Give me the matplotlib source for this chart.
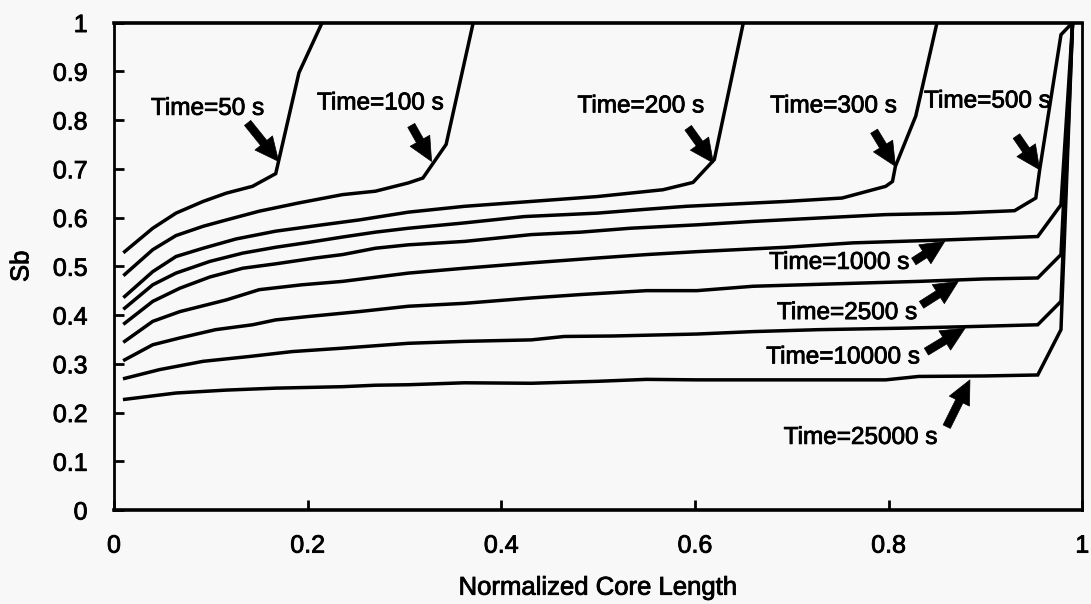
import matplotlib
matplotlib.use('Agg')

import matplotlib.pyplot as plt
import matplotlib.patheffects as pe

# saturation profiles along the core, one per time
x_50 = [0.011, 0.040, 0.064, 0.092, 0.116, 0.143, 0.167, 0.191, 0.215]
sb_50 = [0.530, 0.578, 0.609, 0.633, 0.650, 0.664, 0.690, 0.897, 1.000]

x_100 = [0.011, 0.040, 0.064, 0.092, 0.116, 0.150, 0.191, 0.236, 0.270, 0.304, 0.319, 0.343, 0.371]
sb_100 = [0.483, 0.534, 0.563, 0.582, 0.595, 0.613, 0.630, 0.647, 0.654, 0.671, 0.681, 0.750, 1.000]

x_200 = [0.011, 0.040, 0.064, 0.092, 0.126, 0.167, 0.215, 0.253, 0.304, 0.362, 0.431, 0.499, 0.567, 0.598, 0.620, 0.650]
sb_200 = [0.438, 0.489, 0.520, 0.537, 0.556, 0.572, 0.585, 0.595, 0.611, 0.623, 0.633, 0.643, 0.657, 0.672, 0.719, 1.000]

x_300 = [0.011, 0.040, 0.064, 0.099, 0.133, 0.167, 0.201, 0.236, 0.270, 0.304, 0.362, 0.424, 0.499, 0.550,
         0.591, 0.694, 0.752, 0.797, 0.804, 0.807, 0.828, 0.850]
sb_300 = [0.414, 0.462, 0.486, 0.510, 0.527, 0.539, 0.549, 0.560, 0.570, 0.578, 0.589, 0.602, 0.609, 0.617,
          0.623, 0.633, 0.640, 0.664, 0.674, 0.705, 0.808, 1.000]

x_500 = [0.011, 0.040, 0.068, 0.099, 0.133, 0.167, 0.208, 0.236, 0.270, 0.304, 0.362, 0.431, 0.482, 0.533,
         0.602, 0.660, 0.728, 0.797, 0.869, 0.930, 0.952, 0.956, 0.978, 0.990]
sb_500 = [0.383, 0.428, 0.455, 0.478, 0.496, 0.505, 0.517, 0.524, 0.537, 0.544, 0.551, 0.565, 0.570, 0.578,
          0.585, 0.592, 0.599, 0.606, 0.609, 0.614, 0.640, 0.698, 0.975, 1.000]

x_1000 = [0.011, 0.040, 0.068, 0.116, 0.150, 0.194, 0.236, 0.304, 0.362, 0.431, 0.499, 0.550, 0.602, 0.694,
          0.763, 0.858, 0.954, 0.978, 0.990]
sb_1000 = [0.346, 0.387, 0.407, 0.431, 0.452, 0.462, 0.469, 0.486, 0.496, 0.507, 0.517, 0.524, 0.530, 0.539,
           0.548, 0.554, 0.561, 0.626, 1.000]

x_2500 = [0.011, 0.040, 0.068, 0.105, 0.143, 0.167, 0.201, 0.253, 0.304, 0.362, 0.431, 0.482, 0.550, 0.602,
          0.660, 0.745, 0.831, 0.899, 0.954, 0.978, 0.990]
sb_2500 = [0.308, 0.339, 0.353, 0.370, 0.380, 0.390, 0.397, 0.407, 0.418, 0.424, 0.435, 0.442, 0.450, 0.450,
           0.459, 0.464, 0.469, 0.474, 0.476, 0.524, 1.000]

x_10000 = [0.011, 0.047, 0.092, 0.140, 0.184, 0.236, 0.304, 0.362, 0.431, 0.465, 0.516, 0.602, 0.660, 0.728,
           0.814, 0.879, 0.954, 0.978, 0.990]
sb_10000 = [0.270, 0.288, 0.305, 0.315, 0.325, 0.332, 0.342, 0.346, 0.349, 0.356, 0.357, 0.361, 0.366, 0.370,
            0.373, 0.376, 0.380, 0.428, 1.000]

x_25000 = [0.011, 0.064, 0.116, 0.167, 0.236, 0.270, 0.304, 0.362, 0.431, 0.499, 0.550, 0.602, 0.797, 0.831,
           0.899, 0.954, 0.978, 0.990]
sb_25000 = [0.227, 0.240, 0.246, 0.250, 0.253, 0.256, 0.257, 0.261, 0.260, 0.264, 0.268, 0.267, 0.267, 0.274,
            0.275, 0.277, 0.370, 1.000]

curves = [(x_50, sb_50), (x_100, sb_100), (x_200, sb_200), (x_300, sb_300), (x_500, sb_500),
          (x_1000, sb_1000), (x_2500, sb_2500), (x_10000, sb_10000), (x_25000, sb_25000)]

labels = ['Time=50 s', 'Time=100 s', 'Time=200 s', 'Time=300 s', 'Time=500 s',
          'Time=1000 s', 'Time=2500 s', 'Time=10000 s', 'Time=25000 s']

# label placement: text centre, arrow tail, arrow tip
label_pos = [(0.0965, 0.823), (0.275, 0.834), (0.544, 0.828), (0.743, 0.828), (0.902, 0.838),
             (0.749, 0.507), (0.757, 0.404), (0.753, 0.313), (0.771, 0.148)]
arrow_tail = [(0.138, 0.794), (0.307, 0.789), (0.593, 0.784), (0.785, 0.777), (0.932, 0.767),
              (0.826, 0.510), (0.834, 0.421), (0.839, 0.325), (0.860, 0.171)]
arrow_tip = [(0.170, 0.715), (0.328, 0.715), (0.619, 0.712), (0.807, 0.705), (0.956, 0.698),
             (0.858, 0.551), (0.872, 0.469), (0.879, 0.373), (0.884, 0.267)]

bg = '#f8f8f8'
plt.rcParams['font.family'] = ['Liberation Sans', 'DejaVu Sans']
# scanned text looks heavier than a plain regular face
heavy = [pe.withStroke(linewidth=0.6, foreground='black')]

fig = plt.figure(figsize=(10.91, 6.04), dpi=100, facecolor=bg)
ax = fig.add_axes([0.1045, 0.1556, 0.8875, 0.8071], facecolor=bg)

for xs, ys in curves:
    ax.plot(xs, ys, color='black', lw=2.5, solid_joinstyle='miter')

for lab, pos, tail, tip in zip(labels, label_pos, arrow_tail, arrow_tip):
    ax.text(pos[0], pos[1], lab, fontsize=17.5, ha='center', va='center', path_effects=heavy)
    ax.annotate('', xy=tip, xytext=tail,
                arrowprops=dict(arrowstyle='simple,head_length=0.95,head_width=0.9,tail_width=0.32',
                                fc='black', ec='black', lw=0.5, shrinkA=0, shrinkB=0,
                                mutation_scale=18))

ax.set_xlim(0, 1)
ax.set_ylim(0, 1)

xt = [0, 0.2, 0.4, 0.6, 0.8, 1]
yt = [0, 0.1, 0.2, 0.3, 0.4, 0.5, 0.6, 0.7, 0.8, 0.9, 1]
ax.set_xticks(xt)
ax.set_xticklabels(['0', '0.2', '0.4', '0.6', '0.8', '1'])
ax.set_yticks(yt)
ax.set_yticklabels(['0', '0.1', '0.2', '0.3', '0.4', '0.5', '0.6', '0.7', '0.8', '0.9', '1'])

ax.tick_params(direction='in', length=7, width=2, labelsize=18)
ax.tick_params(axis='y', pad=19)
ax.tick_params(axis='x', pad=17)
for t in ax.get_xticklabels() + ax.get_yticklabels():
    t.set_path_effects(heavy)

for side in ['top', 'bottom']:
    ax.spines[side].set_linewidth(2.6)
for side in ['left', 'right']:
    ax.spines[side].set_linewidth(2.0)

ax.set_xlabel('Normalized Core Length', fontsize=18.5, labelpad=13, path_effects=heavy)
ax.set_ylabel('Sb', fontsize=18.5, labelpad=14, path_effects=heavy)

plt.savefig('out.png', dpi=100, facecolor=bg)
plt.close(fig)
